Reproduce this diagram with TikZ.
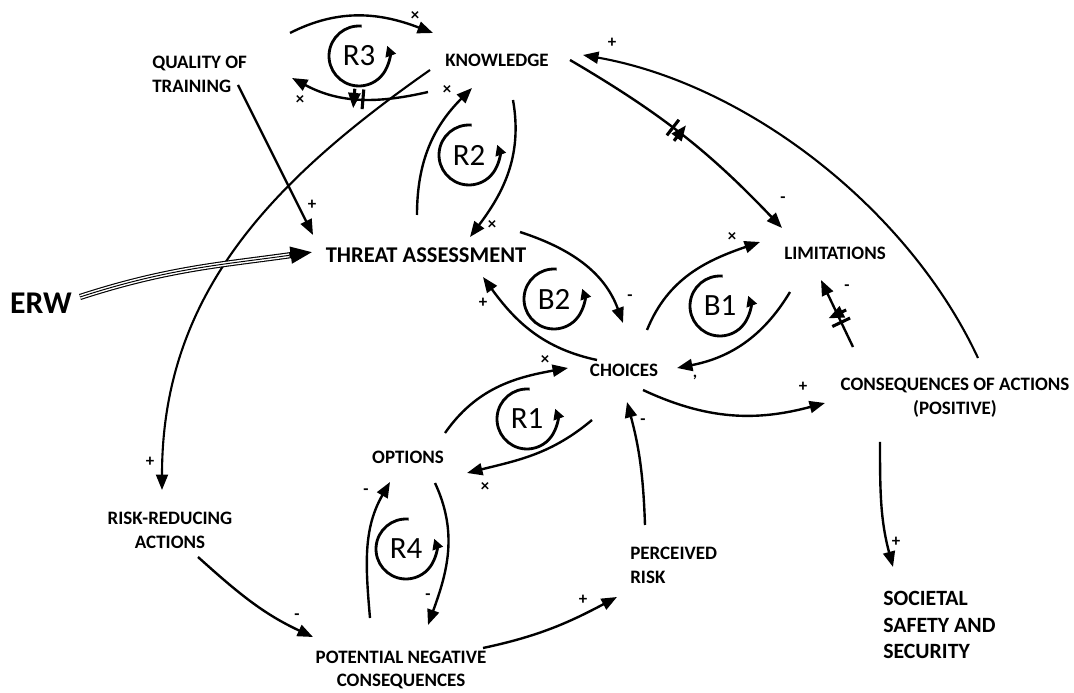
\documentclass[tikz,border=0pt]{standalone}
\usepackage{fontspec}
\setmainfont{Carlito}
\usetikzlibrary{arrows.meta,decorations.markings}

\tikzset{
  var/.style={font=\bfseries\fontsize{13.5}{17}\selectfont, inner sep=0pt, align=center},
  link/.style={line width=1.7pt, -{Triangle[length=11pt,width=8.5pt]}},
  sign/.style={font=\bfseries\fontsize{12}{12}\selectfont, inner sep=0pt},
  loopring/.style={line width=2pt, -{Triangle[length=7.5pt,width=7.5pt]}},
  loopname/.style={font=\fontsize{22}{22}\selectfont, inner sep=0pt},
  delaymark/.style={postaction={decorate, decoration={markings,
      mark=at position #1 with {\draw[line width=2.2pt] (-3.2pt,-7pt) -- (-3.2pt,7pt) (3.2pt,-7pt) -- (3.2pt,7pt);}}}}
}

\begin{document}
\begin{tikzpicture}[x=0.025cm, y=0.025cm]
    \useasboundingbox (0,0) rectangle (1074,692);

    % variables
    \node[var] (know) at (497,632) {KNOWLEDGE};
    \node[var, align=left, anchor=west] (qual) at (152,618) {QUALITY OF\\TRAINING};
    \node[var, font=\bfseries\fontsize{16}{19}\selectfont] (ta) at (426,437) {THREAT ASSESSMENT};
    \node[var, font=\bfseries\fontsize{22.5}{26}\selectfont] (erw) at (41,389) {ERW};
    \node[var] (cho) at (624,322) {CHOICES};
    \node[var] (lim) at (835,439) {LIMITATIONS};
    \node[var] (cons) at (955,294) {CONSEQUENCES OF ACTIONS\\(POSITIVE)};
    \node[var, align=left, anchor=west, font=\bfseries\fontsize{15.5}{19}\selectfont] (soc) at (883,67) {SOCIETAL\\SAFETY AND\\SECURITY};
    \node[var] (opt) at (408,235) {OPTIONS};
    \node[var] (pnc) at (401,22) {POTENTIAL NEGATIVE\\CONSEQUENCES};
    \node[var, align=left, anchor=west] (risk) at (630,127) {PERCEIVED\\RISK};
    \node[var] (rra) at (170,162) {RISK-REDUCING\\ACTIONS};

    % loop markers
    \foreach \nm/\cx/\cy in {R3/359/636, R2/469/537, B2/554/393, B1/720/386, R1/527/273, R4/406/143} {
        \draw[loopring] (\cx,\cy) ++(85:30) arc (85:380:30);
        \node[loopname] (\nm) at (\cx,\cy) {\nm};
    }

    % connector ends
    \coordinate (r3a) at (290,659); \coordinate (r3b) at (433,659);
    \coordinate (r3c) at (428,600); \coordinate (r3d) at (292,614);
    \coordinate (kra) at (430,622); \coordinate (krb) at (162,202);
    \coordinate (qta) at (238,607); \coordinate (qtb) at (313,457);
    \coordinate (eta) at (80,395);  \coordinate (etb) at (313,440);
    \coordinate (r2a) at (417,477); \coordinate (r2b) at (472,604);
    \coordinate (r2c) at (513,592); \coordinate (r2d) at (470,455);
    \coordinate (b2a) at (520,460); \coordinate (b2b) at (623,369);
    \coordinate (b2c) at (597,332); \coordinate (b2d) at (483,415);
    \coordinate (b1a) at (647,362); \coordinate (b1b) at (760,450);
    \coordinate (b1c) at (790,400); \coordinate (b1d) at (677,324);
    \coordinate (kla) at (570,632); \coordinate (klb) at (782,464);
    \coordinate (cla) at (853,345); \coordinate (clb) at (821,412);
    \coordinate (cka) at (978,334); \coordinate (ckb) at (583,637);
    \coordinate (cca) at (643,302); \coordinate (ccb) at (825,289);
    \coordinate (csa) at (880,250); \coordinate (csb) at (893,125);
    \coordinate (r1a) at (445,259); \coordinate (r1b) at (568,324);
    \coordinate (r1c) at (592,272); \coordinate (r1d) at (467,219);
    \coordinate (r4a) at (370,74);  \coordinate (r4b) at (390,210);
    \coordinate (r4c) at (435,209); \coordinate (r4d) at (428,67);
    \coordinate (rpa) at (198,135); \coordinate (rpb) at (313,55);
    \coordinate (ppa) at (483,44);  \coordinate (ppb) at (617,95);
    \coordinate (pca) at (645,167); \coordinate (pcb) at (627,290);

    % links
    \draw[link] (r3a) to[out=27, in=159] (r3b);
    \draw[link, delaymark=0.5] (r3c) to[out=193, in=-28] (r3d);
    \draw[link, line width=1.5pt] (kra) to[out=215, in=90] (krb);
    \draw[link] (qta) -- (qtb);
    \draw[line width=4.4pt, -{Triangle[length=16pt,width=11pt]}] (eta) to[out=18, in=188] (etb);
    \draw[line width=2.8pt, white, shorten >=17pt] (eta) to[out=18, in=188] (etb);
    \draw[line width=0.7pt, shorten >=17pt] (eta) to[out=18, in=188] (etb);
    \draw[link] (r2a) to[out=90, in=225] (r2b);
    \draw[link] (r2c) to[out=-80, in=53] (r2d);
    \draw[link] (b2a) to[out=-18, in=110] (b2b);
    \draw[link] (b2c) to[out=168, in=306] (b2d);
    \draw[link] (b1a) to[out=68, in=199] (b1b);
    \draw[link] (b1c) to[out=239, in=11] (b1d);
    \draw[link, delaymark=0.47] (kla) to[bend left=8] (klb);
    \draw[link, delaymark=0.43] (cla) -- (clb);
    \draw[link, line width=1.5pt] (cka) to[out=115, in=-10, looseness=0.85] (ckb);
    \draw[link] (cca) to[out=-25, in=195] (ccb);
    \draw[link] (csa) to[out=-90, in=105] (csb);
    \draw[link] (r1a) to[out=55, in=190] (r1b);
    \draw[link] (r1c) to[out=220, in=14] (r1d);
    \draw[link] (r4a) to[out=95, in=240] (r4b);
    \draw[link] (r4c) to[out=-65, in=70] (r4d);
    \draw[link] (rpa) to[out=-42, in=155] (rpb);
    \draw[link] (ppa) to[out=12, in=208] (ppb);
    \draw[link] (pca) to[out=92, in=-75] (pcb);

    % polarity signs
    \foreach \s/\sx/\sy [count=\i] in {×/415/676, ×/300/592, +/150/230, +/312/487, ×/447/602,
        ×/492/467, -/630/394, +/483/389, ×/732/455, -/783/492, -/847/404, +/612/649,
        +/803/305, +/896/150, ×/545/332, ×/485/205, -/366/200, -/428/95, -/297/75,
        +/583/92, -/643/270} {
        \node[sign] (sg\i) at (\sx,\sy) {\s};
    }
    \node[sign] (sgk) at (695,315) {,};
\end{tikzpicture}
\end{document}
